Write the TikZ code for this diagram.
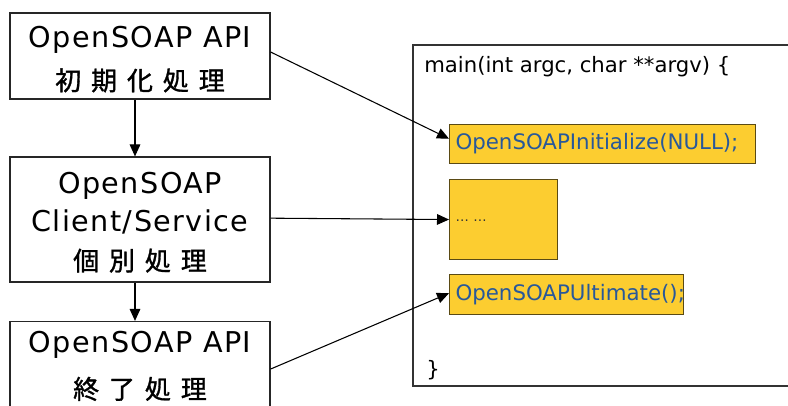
\documentclass[tikz,border=0pt]{standalone}
\usepackage{fontspec}
\setmainfont{DejaVu Sans}
\newfontfamily\jpfont[FakeBold=1.2]{Noto Sans CJK JP}
\usetikzlibrary{arrows.meta}
\definecolor{codeyellow}{RGB}{252,205,48}
\definecolor{codeedge}{RGB}{90,74,20}
\definecolor{codeblue}{RGB}{40,88,154}
% gap between the spaced-out Japanese characters
\newcommand{\jg}{\hspace{0.38em}}
% Japanese line inside a step box
\newcommand{\jline}[1]{{\fontsize{19.5}{24}\selectfont\jpfont #1}}

\begin{document}
\begin{tikzpicture}[x=0.75pt,y=-0.75pt,
  stepbox/.style={draw=black!85, line width=0.9pt, fill=white,
    minimum width=195pt, align=center, inner sep=0pt,
    font=\fontsize{21.5}{29}\selectfont\addfontfeatures{LetterSpace=5}},
  ybox/.style={draw=codeedge, fill=codeyellow, line width=0.8pt,
    anchor=north west, inner xsep=4.5pt, inner ysep=0pt, align=left,
    text=codeblue, font=\fontsize{16}{18}\selectfont},
  codetext/.style={anchor=base west, inner sep=0pt,
    font=\fontsize{15.9}{18}\selectfont},
  conn/.style={line width=0.8pt, -{Triangle[length=9pt,width=8pt]}}]
\useasboundingbox (0,0) rectangle (788,405);
\clip (0,0) rectangle (788,405);

% processing steps on the left
\node[stepbox, minimum height=64.5pt] (init) at (140,56)
  {\rule{0pt}{21pt}OpenSOAP API\\[3pt]\jline{初\jg 期\jg 化\jg 処\jg 理}};
\node[stepbox, minimum height=93.75pt] (body) at (140,219.5)
  {\rule{0pt}{20pt}OpenSOAP\\Client/Service\\\jline{個\jg 別\jg 処\jg 理}};
\node[stepbox, minimum height=64.5pt] (fin) at (140,364.5)
  {\rule{0pt}{18pt}OpenSOAP API\\[6pt]\jline{終\jg 了\jg 処\jg 理}};

% program listing on the right
\node[draw=black!80, line width=0.9pt, minimum width=312.75pt,
  minimum height=255.75pt, inner sep=0pt] (code) at (621.5,215.5) {};
\node[codetext] (sig) at (424,72) {main(int argc, char **argv) \{};
\node[codetext] (close) at (426,376) {\}};

\node[ybox, minimum width=229.5pt, minimum height=29.25pt, text width=220.5pt]
  (callinit) at (449,124) {OpenSOAPInitialize(NULL);};
\node[ybox, minimum width=81pt, minimum height=60pt, text width=72pt,
  text=black!80, font=\fontsize{10}{12}\selectfont]
  (callbody) at (449,179) {\raisebox{-3pt}{\dots\ \dots}};
\node[ybox, minimum width=175.5pt, minimum height=30pt, text width=166.5pt]
  (callfin) at (449,274) {OpenSOAPUltimate();};

% flow between steps
\draw[conn] ([xshift=-3.75pt]init.south) -- ([xshift=-3.75pt]body.north);
\draw[conn] ([xshift=-3.75pt]body.south) -- ([xshift=-3.75pt]fin.north);

% steps mapped to the calls
\draw[conn] ([yshift=3pt]init.east) -- ([yshift=4pt]callinit.west);
\draw[conn] ([yshift=1pt]body.east) -- (callbody.west);
\draw[conn] ([yshift=-3.4pt]fin.east) -- ([yshift=1pt]callfin.west);
\end{tikzpicture}
\end{document}
